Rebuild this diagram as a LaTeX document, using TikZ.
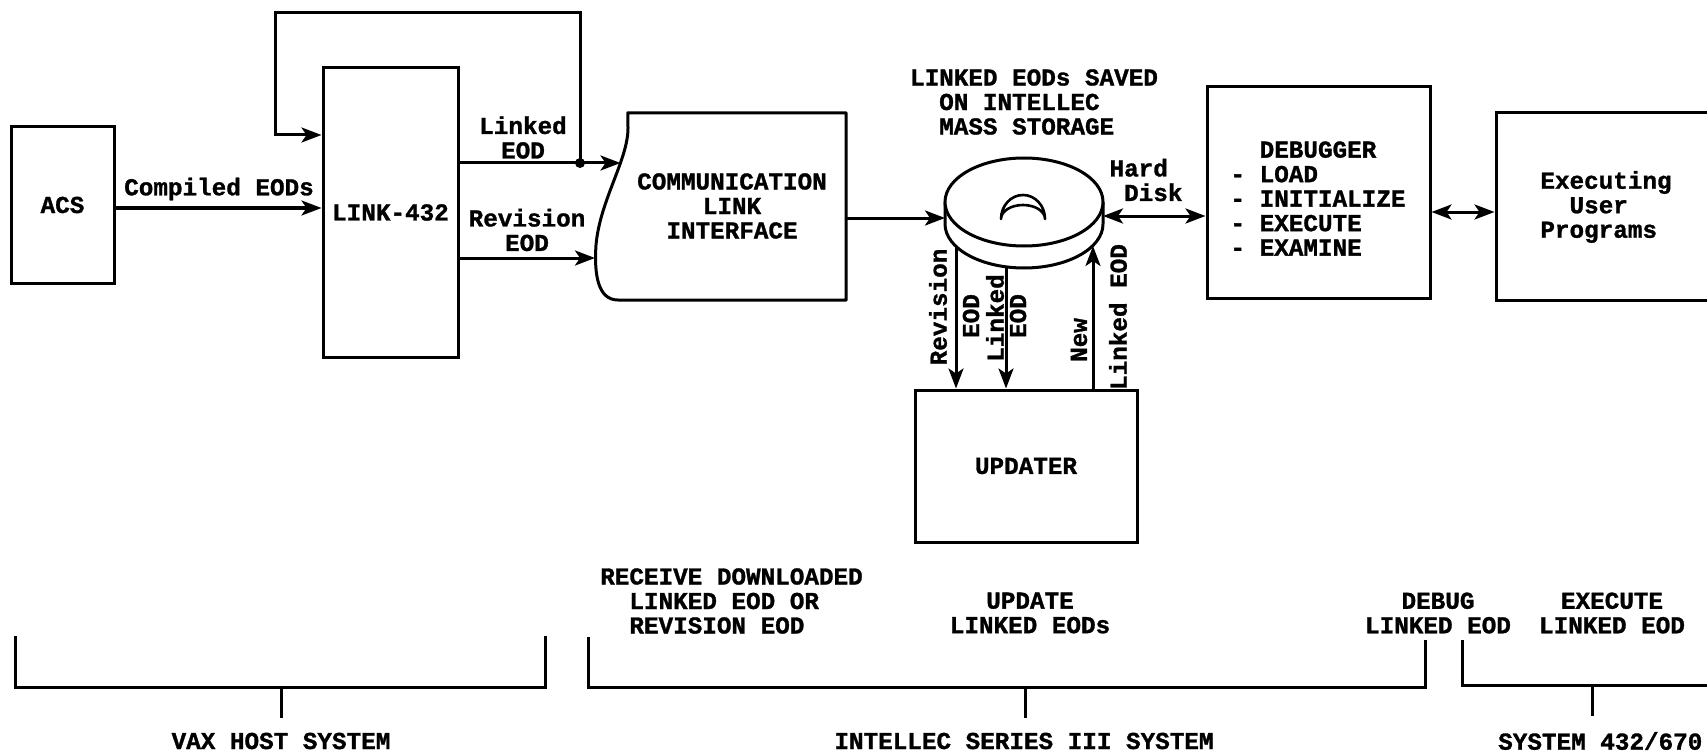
\documentclass[tikz,border=0pt]{standalone}
\usepackage{fontspec}
\newfontfamily\tw{Liberation Mono}[BoldFeatures={FakeBold=1.2}]
\usetikzlibrary{arrows.meta}
\begin{document}
\begin{tikzpicture}[x=1pt,y=-1pt,
  lw/.style={line width=3pt},
  every node/.style={font=\tw\bfseries\fontsize{24.3}{24.5}\selectfont, inner sep=0pt},
  box/.style={draw, line width=3pt},
  arr/.style={line width=3pt,-{Stealth[length=20pt,width=15pt,inset=5pt]}},
  arrb/.style={line width=3pt,{Stealth[length=20pt,width=15pt,inset=5pt]}-{Stealth[length=20pt,width=15pt,inset=5pt]}},
  rot/.style={rotate=90}
]
\clip (0,0) rectangle (1707,754);
\fill[white] (0,0) rectangle (1707,754);

% boxes
\node[box, minimum width=103, minimum height=156] (acs) at (62.5,205) {ACS};
\node[box, minimum width=135, minimum height=289] (link) at (390.5,212.5) {LINK-432};

\node[minimum width=218, minimum height=187] (comm) at (737,206.5) {};
\draw[lw, line join=round] (comm.south east) -- (comm.north east) -- (comm.north west) -- (628,128)
  .. controls (628,160) and (600,200) .. (596,245)
  .. controls (594,275) and (598,300) .. (618,300) -- cycle;
\node[align=center] (commt) at (732,206) {COMMUNICATION\\LINK\\INTERFACE};
\coordinate (cin1) at (620.5,163);
\coordinate (cin2) at (595,258);

% disk
\coordinate (dc) at (1024,202);
\draw[lw, fill=white] (945,202) -- (945,224) arc[start angle=180,end angle=0,x radius=79,y radius=44] -- (1103,202);
\draw[lw, fill=white] (dc) ellipse [x radius=79, y radius=44];
\draw[line width=2.6pt, line join=round] (1001,219) arc[start angle=180,end angle=360,x radius=22,y radius=24]
  arc[start angle=0,end angle=-180,x radius=22,y radius=14] -- cycle;
\coordinate (diskL) at (945,218);
\coordinate (diskR) at (1103,216);
\coordinate (db1) at (956,247);
\coordinate (db2) at (1006,267);
\coordinate (db3) at (1093,246);

\node[box, minimum width=223, minimum height=211] (dbg) at (1318.5,192.5) {};
\node[align=left] (dbgt) at (1318,198.5) {\hphantom{XX}DEBUGGER\\- LOAD\\- INITIALIZE\\- EXECUTE\\- EXAMINE};

\node[box, minimum width=260, minimum height=187] (exe) at (1626,206.5) {};
\node[align=left] (exet) at (1606,207) {Executing\\\hphantom{XX}User\\Programs};

\node[box, minimum width=222, minimum height=152] (upd) at (1026,466) {UPDATER};

% connectors
\draw[arr] (acs.east |- 0,208) -- (link.west |- 0,208);
\coordinate (j) at (580,163);
\draw[lw] (link.east |- j) -- (j);
\draw[arr] (j) -- (cin1);
\draw[arr] (j) -- (580,13) -- (275,13) -- (275,135) -- (link.west |- 0,135);
\fill (j) circle (5);
\draw[arr] (link.east |- cin2) -- (cin2);

\draw[arr] (comm.east |- diskL) -- (diskL);
\draw[arrb] (diskR) -- (dbg.west |- diskR);
\draw[arrb] (dbg.east |- 0,212) -- (exe.west |- 0,212);
\draw[arr] (db1) -- (db1 |- upd.north);
\draw[arr] (db2) -- (db2 |- upd.north);
\draw[arr] (db3 |- upd.north) -- (db3);

% labels
\node (comp) at (219,189) {Compiled EODs};
\node[align=center] (lk) at (523,137.5) {Linked\\EOD};
\node[align=center] (rv) at (527,230) {Revision\\EOD};
\node[align=left] (saved) at (1034,102) {LINKED EODs SAVED\\\hphantom{XX}ON INTELLEC\\\hphantom{XX}MASS STORAGE};
\node[align=left] (hd) at (1146,180) {Hard\\\hphantom{X}Disk};

\node[rot] (r1) at (938,307) {Revision};
\node[rot] (r2) at (971,316) {EOD};
\node[rot] (r3) at (995,318) {Linked};
\node[rot] (r4) at (1018,316) {EOD};
\node[rot] (r5) at (1079,340) {New};
\node[rot] (r6) at (1118,317) {Linked EOD};

% bottom brackets
\draw[lw] (15,636) -- (15,687) -- (545,687) -- (545,636);
\draw[lw] (281,687) -- (281,718);
\node (vax) at (281,741) {VAX HOST SYSTEM};

\draw[lw] (588,637) -- (588,687) -- (1425,687) -- (1425,640);
\draw[lw] (1025,687) -- (1025,718);
\node (intl) at (1024,741) {INTELLEC SERIES III SYSTEM};

\draw[lw] (1462,640) -- (1462,685) -- (1720,685);
\draw[lw] (1592,685) -- (1592,716);
\node[anchor=west] (sys) at (1498,741) {SYSTEM 432/670};

\node[align=left] (recv) at (731.5,601) {RECEIVE DOWNLOADED\\\hphantom{XX}LINKED EOD OR\\\hphantom{XX}REVISION EOD};
\node[align=center] (updl) at (1030,613) {UPDATE\\LINKED EODs};
\node[align=center] (dbgl) at (1438,613) {DEBUG\\LINKED EOD};
\node[align=center] (exel) at (1612,613) {EXECUTE\\LINKED EOD};
\end{tikzpicture}
\end{document}
